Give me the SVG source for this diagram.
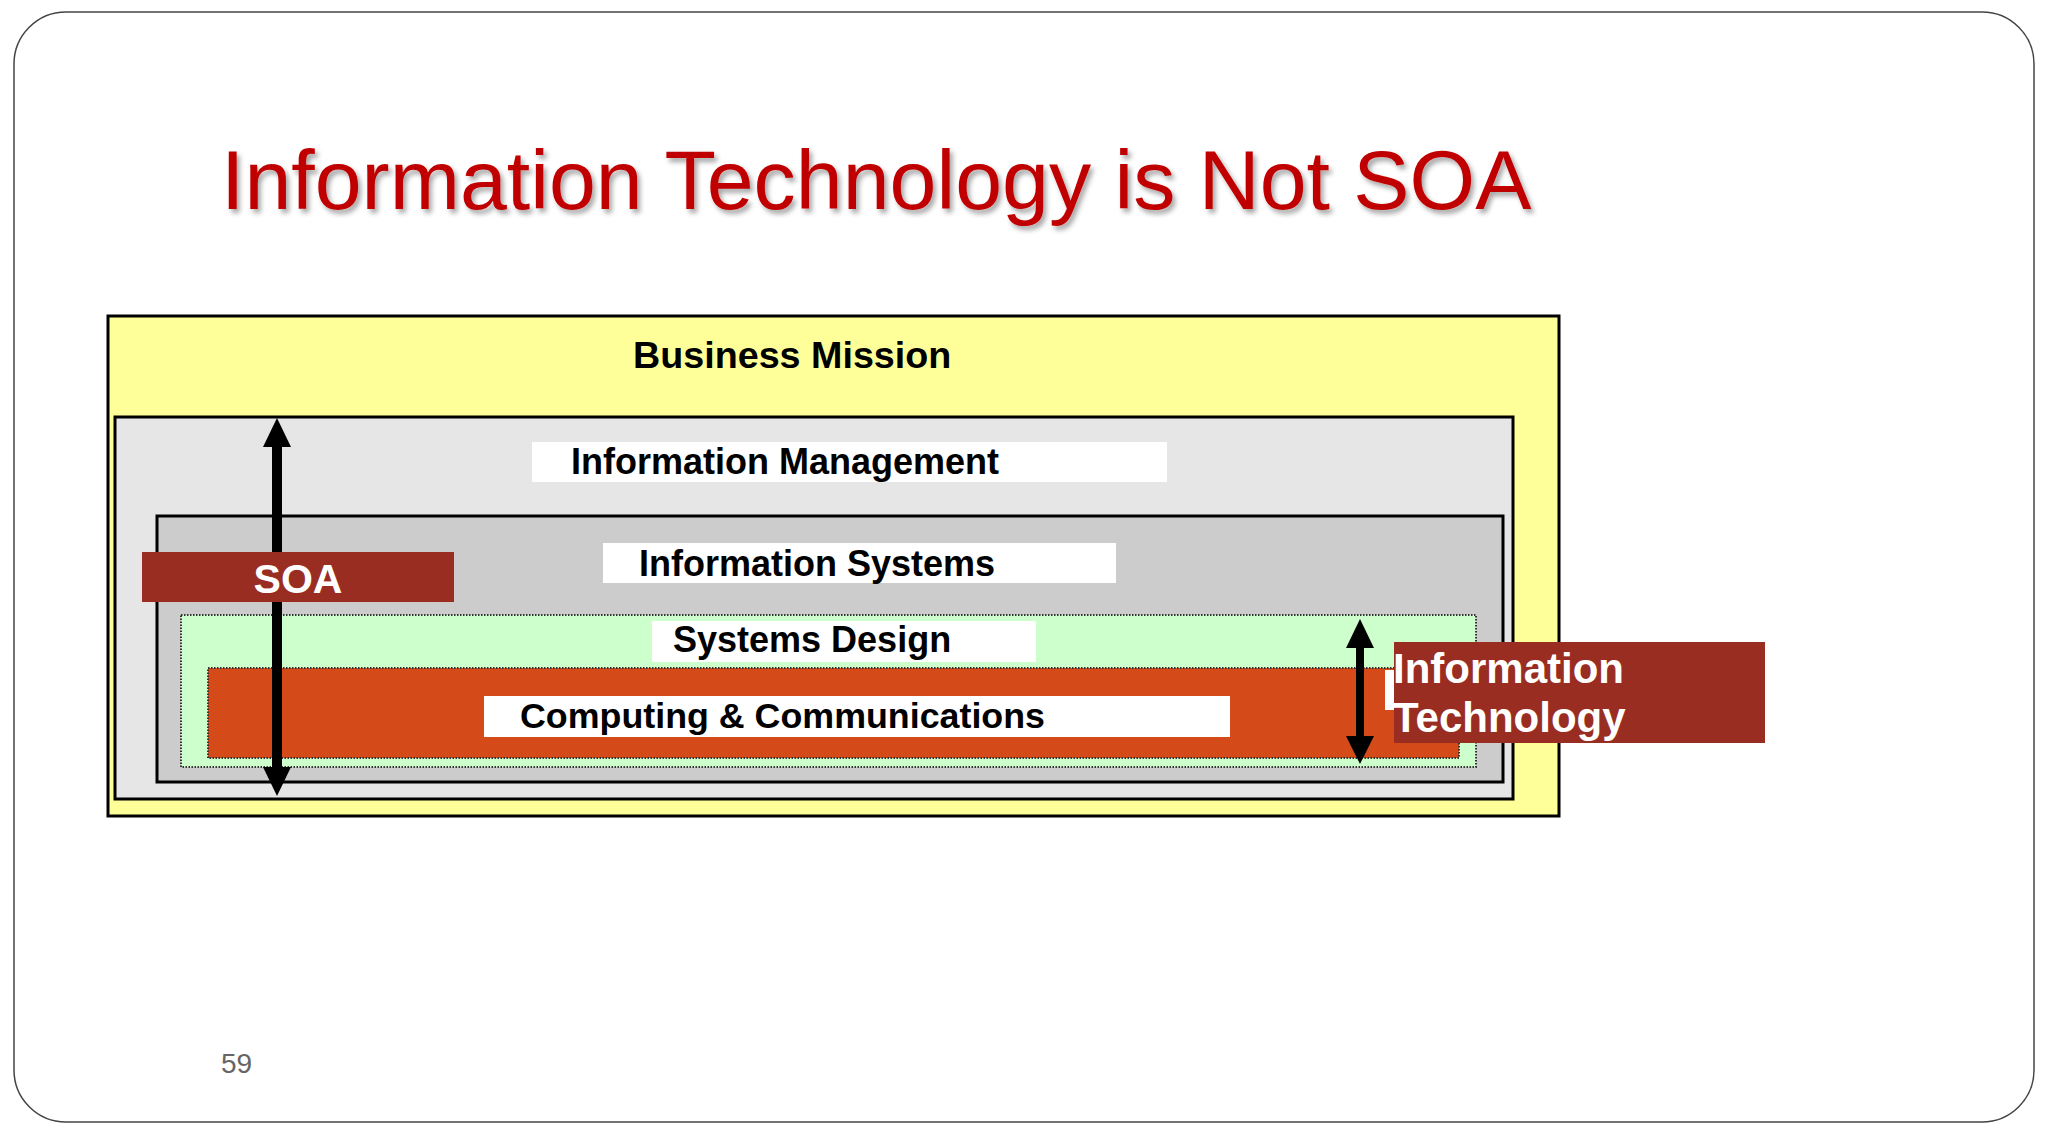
<svg xmlns="http://www.w3.org/2000/svg" width="2048" height="1138" viewBox="0 0 2048 1138">
  <defs>
    <filter id="shadow" x="-5%" y="-20%" width="110%" height="150%">
      <feDropShadow dx="3" dy="4" stdDeviation="2.5" flood-color="#000" flood-opacity="0.35"/>
    </filter>
  </defs>
  <style>
    .frame { fill: #fff; stroke: #444; stroke-width: 1.5; }
    .box { stroke: #000; stroke-width: 3; }
    .dotted { stroke: #333; stroke-width: 2; stroke-dasharray: 1.5 1.5; }
    .label { fill: #fff; }
    .lbl { font-family: "Liberation Sans", Arial, sans-serif; font-weight: bold; fill: #000; }
    .wlbl { font-family: "Liberation Sans", Arial, sans-serif; font-weight: bold; fill: #fff; }
    .arrow { fill: #000; }
  </style>
  <rect class="frame" x="14" y="12" width="2020" height="1110" rx="52" ry="52"/>
  <text id="title" x="221" y="209" font-family="'Liberation Sans', Arial, sans-serif" font-size="84.3" fill="#c00000" filter="url(#shadow)">Information Technology is Not SOA</text>

  <g id="business-mission">
    <rect class="box" x="108" y="316" width="1451" height="500" fill="#ffff99"/>
    <text class="lbl" x="633" y="368" font-size="37.7">Business Mission</text>
  </g>
  <g id="information-management">
    <rect class="box" x="115" y="417" width="1398" height="382" fill="#e6e6e6"/>
    <rect class="label" x="532" y="442" width="635" height="40"/>
    <text class="lbl" x="571" y="474" font-size="36">Information Management</text>
  </g>
  <g id="information-systems">
    <rect class="box" x="157" y="516" width="1346" height="266" fill="#cccccc"/>
    <rect class="label" x="603" y="543" width="513" height="40"/>
    <text class="lbl" x="639" y="576" font-size="36">Information Systems</text>
  </g>
  <g id="systems-design">
    <rect class="dotted" x="181" y="615" width="1295" height="152" fill="#ccffcc"/>
    <rect class="label" x="652" y="621" width="384" height="41"/>
    <text class="lbl" x="673" y="652" font-size="36">Systems Design</text>
  </g>
  <g id="computing-communications">
    <rect class="dotted" x="208" y="668" width="1251" height="90" fill="#d44a19"/>
    <rect class="label" x="484" y="696" width="746" height="41"/>
    <text class="lbl" x="520" y="728" font-size="35.8">Computing &amp; Communications</text>
    <rect class="label" x="1385" y="670" width="10" height="40"/>
  </g>

  <g id="connectors">
    <g id="soa-arrow">
      <rect class="arrow" x="272" y="444" width="10" height="326"/>
      <polygon class="arrow" points="277,418 263,447 291,447"/>
      <polygon class="arrow" points="277,796 263,767 291,767"/>
    </g>
    <g id="it-arrow">
      <rect class="arrow" x="1356" y="645" width="8" height="94"/>
      <polygon class="arrow" points="1360,619 1346,648 1374,648"/>
      <polygon class="arrow" points="1360,764 1346,736 1374,736"/>
    </g>
  </g>

  <g id="soa">
    <rect x="142" y="552" width="312" height="50" fill="#9a2d21"/>
    <text class="wlbl" x="298" y="593" font-size="41" text-anchor="middle">SOA</text>
  </g>
  <g id="information-technology">
    <rect x="1394" y="642" width="371" height="101" fill="#9a2d21"/>
    <text class="wlbl" x="1393" y="683" font-size="42">Information</text>
    <text class="wlbl" x="1393" y="732" font-size="42">Technology</text>
  </g>

  <text id="page-number" x="221" y="1073" font-family="'Liberation Sans', Arial, sans-serif" font-size="28" fill="#666">59</text>
</svg>
